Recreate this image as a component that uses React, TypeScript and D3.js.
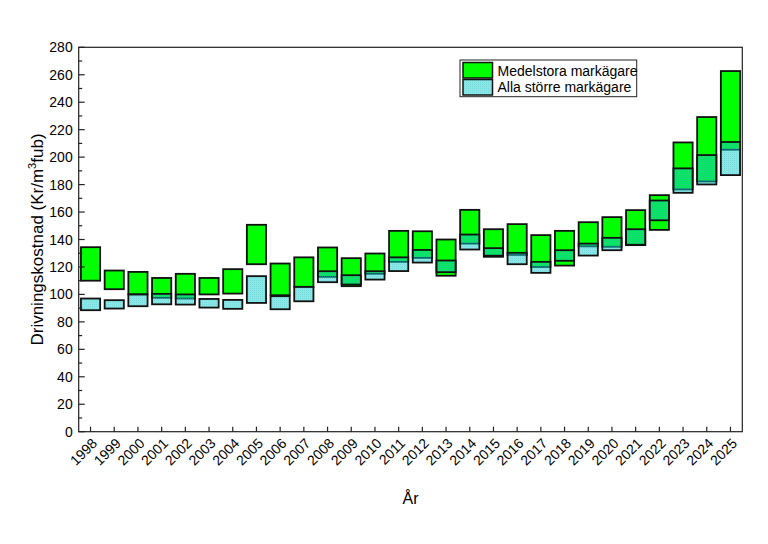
import React from "react";
import * as d3 from "d3";

const years = [
  "1998","1999","2000","2001","2002","2003","2004","2005","2006","2007",
  "2008","2009","2010","2011","2012","2013","2014","2015","2016","2017",
  "2018","2019","2020","2021","2022","2023","2024","2025",
];
const medLow = [110,103.8,100,97.5,97,100,100.6,122,99.4,105.5,112.8,106,115,123.7,126.6,113.6,137,127.4,128.8,120,121,135,134.7,135.9,147,176.5,182.3,205.4];
const medHigh = [134.4,117.4,116.4,112,115,112,118.4,150.7,122.5,127,134.2,126.4,129.8,146.3,146,140,161.6,147.5,151.2,143.2,146.3,152.6,156.3,161.4,172.3,210.7,229.2,262.7];
const allLow = [88.5,89.7,91.4,92.8,92.6,90.4,89.5,93.8,89.2,95,108.9,107.2,110.8,117,123.2,116.2,132.7,128.2,122,115.7,124.5,128.3,132.2,136.2,154,174,180.1,186.9];
const allHigh = [97,95.8,100,100.4,100,96.7,96,113.3,98.7,105.5,116.9,114,116.9,127,132.4,124.7,143.6,133.7,130.3,123.7,132.2,137,141.2,147.5,168.4,191.8,201.5,211];
const yTicks = [0,20,40,60,80,100,120,140,160,180,200,220,240,260,280];
const yMinor = d3.range(10, 280, 20);

const seriesNames = ["Medelstora markägare", "Alla större markägare"];

const W = 768, H = 544;
const L = 78.7, R = 742.3, T = 47.3, B = 431.7;
const FONT = "Arial, 'Liberation Sans', sans-serif";
const GREEN = "#00ff00";
const CYAN = "rgb(0,206,206)";
const CYAN_OP = 0.47;

export default function App() {
  const x = d3.scaleBand<string>().domain(years).range([L, R]).paddingInner(0.19).paddingOuter(0.095);
  const y = d3.scaleLinear().domain([0, 280]).range([B, T]);
  const bw = x.bandwidth();
  const cx = (yr: string) => (x(yr) as number) + bw / 2;

  return (
    <svg width={W} height={H} style={{ position: "absolute", left: 0, top: 0, background: "#fff" }} fontFamily={FONT}>
      <defs>
        <pattern id="dots" width="2" height="2" patternUnits="userSpaceOnUse">
          <rect width="2" height="2" fill={CYAN} fillOpacity={CYAN_OP} />
          <rect width="1" height="1" fill="#5fb0b0" fillOpacity={0.25} />
        </pattern>
      </defs>
      <rect width={W} height={H} fill="#fff" />
      {years.map((yr, i) => (
        <rect key={"g" + yr} x={x(yr)} y={y(medHigh[i])} width={bw} height={y(medLow[i]) - y(medHigh[i])}
          fill={GREEN} stroke="#111" strokeWidth={1.8} />
      ))}
      {years.map((yr, i) => (
        <rect key={"c" + yr} x={x(yr)} y={y(allHigh[i])} width={bw} height={y(allLow[i]) - y(allHigh[i])}
          fill="url(#dots)" stroke="#111" strokeWidth={1.8} />
      ))}
      <rect x={L} y={T} width={R - L} height={B - T} fill="none" stroke="#222" strokeWidth={1.2} />
      {yTicks.map((t) => (
        <g key={"yt" + t}>
          <line x1={L} x2={L + 6} y1={y(t)} y2={y(t)} stroke="#222" strokeWidth={1.2} />
          <text x={L - 6} y={y(t)} dy="0.36em" textAnchor="end" fontSize={14} fill="#000">{t}</text>
        </g>
      ))}
      {yMinor.map((t) => (
        <line key={"ym" + t} x1={L} x2={L + 3.5} y1={y(t)} y2={y(t)} stroke="#222" strokeWidth={1.2} />
      ))}
      {years.map((yr) => (
        <g key={"xt" + yr}>
          <line x1={cx(yr)} x2={cx(yr)} y1={B} y2={B - 5} stroke="#222" strokeWidth={1.2} />
          <text transform={`translate(${cx(yr) + 4},${B + 9}) rotate(-45)`} textAnchor="end" dy="0.35em" fontSize={14} fill="#000">{yr}</text>
        </g>
      ))}
      <text x={(L + R) / 2} y={504} textAnchor="middle" fontSize={16} fill="#000">År</text>
      <text transform={`translate(43,${(T + B) / 2}) rotate(-90)`} textAnchor="middle" fontSize={17} fill="#000">
        Drivningskostnad (Kr/m<tspan dy="-7" fontSize={11}>3</tspan><tspan dy="7">fub)</tspan>
      </text>
      <rect x={460} y={60} width={176.7} height={36.7} fill="#fff" stroke="#222" strokeWidth={1} />
      <rect x={463} y={62.5} width={29.5} height={15.5} fill={GREEN} stroke="#111" strokeWidth={1.5} />
      <text x={497.5} y={75.5} fontSize={14} fill="#000">{seriesNames[0]}</text>
      <rect x={463} y={79.5} width={29.5} height={15.5} fill="url(#dots)" stroke="#111" strokeWidth={1.5} />
      <text x={497.5} y={92} fontSize={14} fill="#000">{seriesNames[1]}</text>
    </svg>
  );
}
